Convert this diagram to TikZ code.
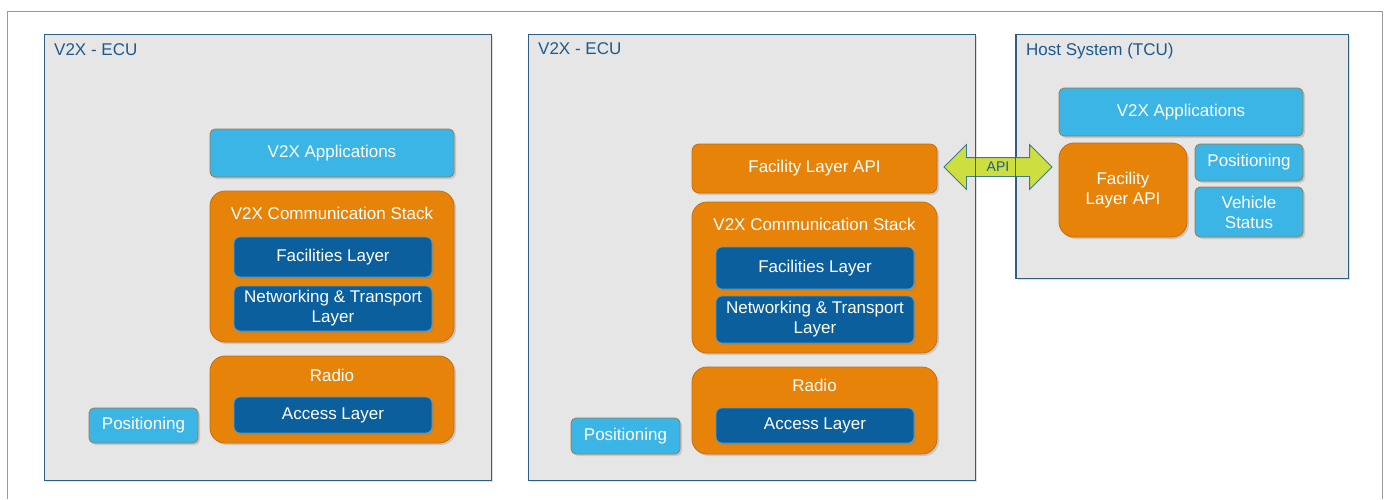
\documentclass[tikz,border=0pt]{standalone}
\usepackage{fontspec}
\setmainfont{Liberation Sans}
\usepackage{xcolor}
\usepackage{tikz}
\usetikzlibrary{shapes,arrows,positioning,shadows,shapes.arrows,calc}

\definecolor{panelfill}{HTML}{E6E6E6}
\definecolor{panelline}{HTML}{2F5F82}
\definecolor{appfill}{HTML}{3BB5E6}
\definecolor{appline}{HTML}{A07A4E}
\definecolor{stackfill}{HTML}{E8830A}
\definecolor{stackline}{HTML}{C56E10}
\definecolor{layerfill}{HTML}{0B5F9D}
\definecolor{layerline}{HTML}{45A2DA}
\definecolor{titletext}{HTML}{1C5A8E}
\definecolor{apifill}{HTML}{CDDF3F}
\definecolor{apiline}{HTML}{3A7C8E}

\begin{document}
\begin{tikzpicture}[x=1pt, y=-1pt,
        panel/.style={
                rectangle,
                draw=panelline,
                fill=panelfill,
                line width=1pt,
                drop shadow={shadow xshift=2pt, shadow yshift=-2pt, opacity=0.25},
                inner sep=0pt,
        },
        paneltitle/.style={anchor=base west, text=titletext, inner sep=0pt, font=\fontsize{17}{20}\selectfont},
        box/.style={
                rectangle,
                line width=0.8pt,
                text=white,
                align=center,
                inner sep=0pt,
                font=\fontsize{17}{20}\selectfont,
                drop shadow={shadow xshift=2pt, shadow yshift=-2pt, opacity=0.3},
        },
        app/.style={box, fill=appfill, draw=appline, rounded corners=5pt},
        stack/.style={box, fill=stackfill, draw=stackline, rounded corners=15pt},
        api/.style={box, fill=stackfill, draw=stackline, rounded corners=7pt},
        layer/.style={box, fill=layerfill, draw=layerline, rounded corners=6pt},
        boxtitle/.style={anchor=base, text=white, inner sep=0pt, font=\fontsize{17}{20}\selectfont},
        apiarrow/.style={
                double arrow,
                double arrow head extend=13pt,
                minimum height=108pt,
                minimum width=44pt,
                inner xsep=0pt,
                inner ysep=4.5pt,
                text height=9pt,
                text depth=0pt,
                fill=apifill,
                draw=apiline,
                line width=0.8pt,
                text=titletext,
                font=\fontsize{14}{16}\selectfont,
        }]
    \useasboundingbox (0,0) rectangle (1388,499);
    % outer frame
    \draw[color=black!40, line width=1pt] (7,499) -- (7,11) -- (1382,11) -- (1382,499);

    % left ECU
    \node[panel, minimum width=447pt, minimum height=446pt] (ecuA) at (267.5,257) {};
    \node[paneltitle] (ecuAt) at (54,55) {V2X - ECU};
    \node[app, minimum width=244pt, minimum height=48pt] (appA) at (332,153) {V2X Applications};
    \node[stack, minimum width=244pt, minimum height=151pt] (stackA) at (332,266.5) {};
    \node[boxtitle] (stackAt) at ($(stackA.north)+(0,29)$) {V2X Communication Stack};
    \node[layer, minimum width=198pt, minimum height=40pt] (facA) at (333,257) {Facilities Layer};
    \node[layer, minimum width=198pt, minimum height=45pt] (netA) at (333,308.5) {Networking \& Transport\\Layer};
    \node[stack, minimum width=244pt, minimum height=87pt] (radioA) at (332,399.5) {};
    \node[boxtitle] (radioAt) at ($(radioA.north)+(0,26)$) {Radio};
    \node[layer, minimum width=198pt, minimum height=36pt] (accA) at (333,415) {Access Layer};
    \node[app, minimum width=109pt, minimum height=35pt] (posA) at (143.5,425.5) {Positioning};

    % right ECU
    \node[panel, minimum width=447pt, minimum height=446pt] (ecuB) at (751.5,257) {};
    \node[paneltitle] (ecuBt) at (538,54) {V2X - ECU};
    \node[api, minimum width=245pt, minimum height=49pt] (fapiB) at (814.5,168.5) {Facility Layer API};
    \node[stack, minimum width=245pt, minimum height=151pt] (stackB) at (814.5,277.5) {};
    \node[boxtitle] (stackBt) at ($(stackB.north)+(0,28.5)$) {V2X Communication Stack};
    \node[layer, minimum width=198pt, minimum height=42pt] (facB) at (815,268) {Facilities Layer};
    \node[layer, minimum width=198pt, minimum height=47pt] (netB) at (815,319.5) {Networking \& Transport\\Layer};
    \node[stack, minimum width=245pt, minimum height=87pt] (radioB) at (814.5,410.5) {};
    \node[boxtitle] (radioBt) at ($(radioB.north)+(0,25)$) {Radio};
    \node[layer, minimum width=198pt, minimum height=35pt] (accB) at (815,425.5) {Access Layer};
    \node[app, minimum width=109pt, minimum height=36pt] (posB) at (625.5,436) {Positioning};

    % host system
    \node[panel, minimum width=332pt, minimum height=244pt] (host) at (1182,156) {};
    \node[paneltitle] (hostt) at (1026,55) {Host System (TCU)};
    \node[app, minimum width=244pt, minimum height=48pt] (appH) at (1181,112) {V2X Applications};
    \node[stack, minimum width=128pt, minimum height=94pt] (fapiH) at (1123,190) {Facility\\Layer API};
    \node[app, minimum width=108pt, minimum height=37pt] (posH) at (1249,162.5) {Positioning};
    \node[app, minimum width=108pt, minimum height=50pt] (vehH) at (1249,212) {Vehicle\\Status};

    % API link
    \node[apiarrow] (link) at (998,167) {API};
    \draw[color=panelline, line width=1pt] (ecuB.north east) -- (ecuB.south east);
    \draw[color=panelline, line width=1pt] (host.north west) -- (host.south west);
\end{tikzpicture}
\end{document}
